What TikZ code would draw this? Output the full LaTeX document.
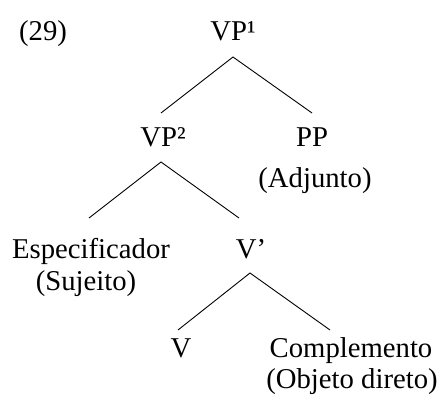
\documentclass[tikz,border=0pt]{standalone}
\usepackage{fontspec}
\setmainfont{Liberation Serif}
\begin{document}
\begin{tikzpicture}[x=1pt,y=-1pt,
  lbl/.style={anchor=base,inner sep=0pt,font=\fontsize{28.7}{32}\selectfont},
  branch/.style={line width=0.9pt}]
\useasboundingbox (0,0) rectangle (443,403);
% example number
\node[lbl] (num) at (43,41) {(29)};
% labels
\node[lbl] (vp1) at (233,41) {VP¹};
\node[lbl] (vp2) at (163,147) {VP²};
\node[lbl] (pp) at (312,147) {PP};
\node[lbl] (ppg) at (315,187) {(Adjunto)};
\node[lbl] (spec) at (91,258) {Especificador};
\node[lbl] (specg) at (86,290) {(Sujeito)};
\node[lbl] (vbar) at (251,258) {V’};
\node[lbl] (v) at (181,357) {V};
\node[lbl] (comp) at (351,357) {Complemento};
\node[lbl] (compg) at (352,388) {(Objeto direto)};
% branch points
\coordinate (a1) at (233,57);
\coordinate (a1l) at (161,113);
\coordinate (a1r) at (312,113);
\coordinate (a2) at (161,162);
\coordinate (a2l) at (89,218);
\coordinate (a2r) at (239,218);
\coordinate (a3) at (250,273);
\coordinate (a3l) at (178,330);
\coordinate (a3r) at (330,330);
\draw[branch] (a1l) -- (a1) -- (a1r);
\draw[branch] (a2l) -- (a2) -- (a2r);
\draw[branch] (a3l) -- (a3) -- (a3r);
\end{tikzpicture}
\end{document}
